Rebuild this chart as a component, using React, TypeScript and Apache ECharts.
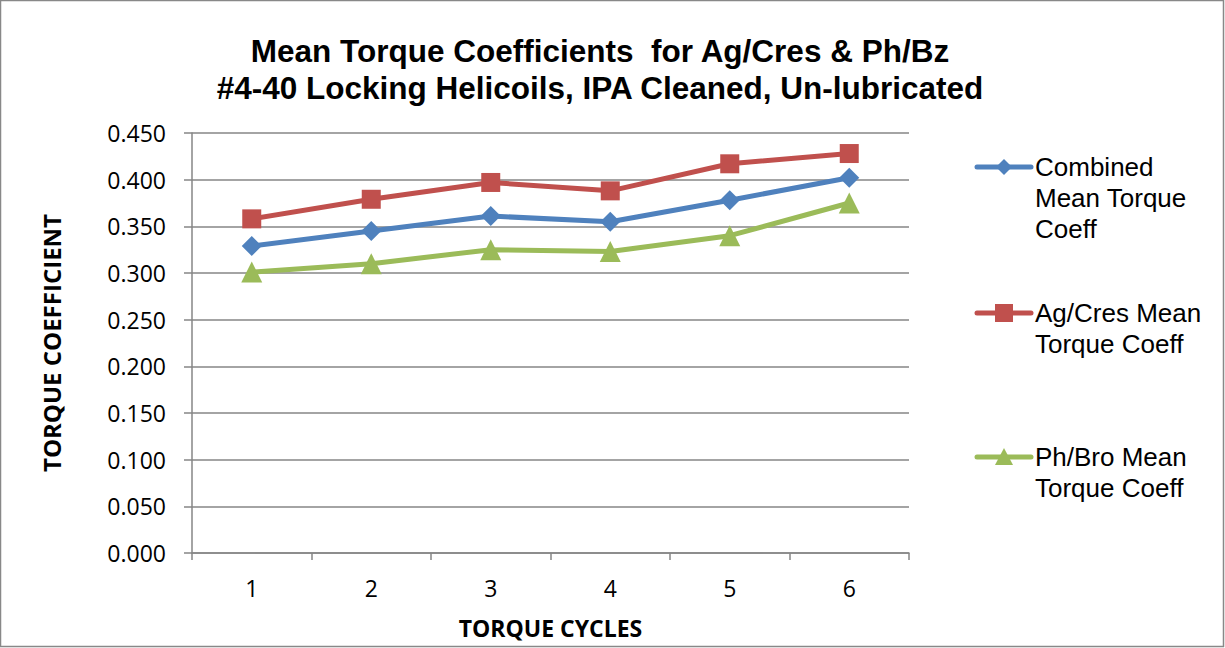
import React, { useEffect, useRef } from "react";
import * as echarts from "echarts";

const titleLines = [
  "Mean Torque Coefficients  for Ag/Cres & Ph/Bz",
  "#4-40 Locking Helicoils, IPA Cleaned, Un-lubricated",
];
const categories = ["1", "2", "3", "4", "5", "6"];
const combined = [0.329, 0.345, 0.361, 0.355, 0.378, 0.402];
const agCres = [0.358, 0.379, 0.397, 0.388, 0.417, 0.428];
const phBro = [0.301, 0.31, 0.325, 0.323, 0.34, 0.375];
const seriesNames = [
  "Combined Mean Torque Coeff",
  "Ag/Cres Mean Torque Coeff",
  "Ph/Bro Mean Torque Coeff",
];
const legendLabels = [
  "Combined\nMean Torque\nCoeff",
  "Ag/Cres Mean\nTorque Coeff",
  "Ph/Bro Mean\nTorque Coeff",
];
const colors = ["#4F81BD", "#C0504D", "#9BBB59"];
const symbols = ["diamond", "rect", "triangle"];
const yMin = 0;
const yMax = 0.45;
const yInterval = 0.05;

export default function App() {
  const ref = useRef<HTMLDivElement>(null);
  useEffect(() => {
    if (!ref.current) return;
    const chart = echarts.init(ref.current, null, { renderer: "svg" });
    const data = [combined, agCres, phBro];
    const legendTop = [167, 313, 457];
    const legendGraphics: any[] = [];
    legendTop.forEach((cy, i) => {
      legendGraphics.push({
        type: "line",
        shape: { x1: 977, y1: cy, x2: 1031, y2: cy },
        style: { stroke: colors[i], lineWidth: 5, lineCap: "round" },
      });
      if (i === 0) {
        legendGraphics.push({
          type: "polygon",
          shape: { points: [[1004, cy - 8], [1012, cy], [1004, cy + 8], [996, cy]] },
          style: { fill: colors[i] },
        });
      } else if (i === 1) {
        legendGraphics.push({
          type: "rect",
          shape: { x: 995, y: cy - 9, width: 18, height: 18 },
          style: { fill: colors[i] },
        });
      } else {
        legendGraphics.push({
          type: "polygon",
          shape: { points: [[1004, cy - 9], [1013, cy + 8], [995, cy + 8]] },
          style: { fill: colors[i] },
        });
      }
      legendGraphics.push({
        type: "text",
        x: 1035,
        y: cy - 15.5,
        style: {
          text: legendLabels[i],
          font: "26px 'Liberation Sans', Arial, sans-serif",
          lineHeight: 31,
          fill: "#000",
          verticalAlign: "top",
          align: "left",
        },
      });
    });
    chart.setOption({
      animation: false,
      backgroundColor: "#fff",
      title: {
        text: titleLines.join("\n"),
        left: 595,
        textAlign: "center",
        top: 27,
        textStyle: {
          fontFamily: "'Liberation Sans', Arial, sans-serif",
          fontWeight: "bold",
          fontSize: 31.5,
          lineHeight: 37,
          color: "#000",
        },
      },
      grid: { left: 192, right: 316, top: 133, bottom: 95 },
      xAxis: {
        type: "category",
        data: categories,
        boundaryGap: true,
        name: "TORQUE CYCLES",
        nameLocation: "middle",
        nameGap: 63.5,
        nameTextStyle: {
          fontFamily: "'Open Sans', sans-serif",
          fontWeight: "bold",
          fontSize: 23,
          color: "#000",
        },
        axisLine: { lineStyle: { color: "#868686", width: 1.5 } },
        axisTick: { show: true, length: 7, lineStyle: { color: "#868686", width: 1.5 } },
        axisLabel: {
          margin: 23,
          fontFamily: "'Open Sans', sans-serif",
          fontSize: 23,
          color: "#000",
        },
        splitLine: { show: false },
      },
      yAxis: {
        type: "value",
        min: yMin,
        max: yMax,
        interval: yInterval,
        name: "TORQUE COEFFICIENT",
        nameLocation: "middle",
        nameGap: 128.5,
        nameTextStyle: {
          fontFamily: "'Open Sans', sans-serif",
          fontWeight: "bold",
          fontSize: 24,
          color: "#000",
        },
        axisLine: { show: true, lineStyle: { color: "#868686", width: 1.5 } },
        axisTick: { show: true, length: 8, lineStyle: { color: "#868686", width: 1.5 } },
        axisLabel: {
          margin: 26,
          fontFamily: "'Open Sans', sans-serif",
          fontSize: 23,
          color: "#000",
          formatter: (v: number) => v.toFixed(3),
        },
        splitLine: { show: true, lineStyle: { color: "#868686", width: 1.5 } },
      },
      series: data.map((d, i) => ({
        name: seriesNames[i],
        type: "line",
        data: d,
        symbol: symbols[i],
        symbolSize: i === 0 ? 20 : i === 1 ? 19 : 21,
        showAllSymbol: true,
        lineStyle: { color: colors[i], width: 5 },
        itemStyle: { color: colors[i] },
        z: 3 - i,
      })),
      graphic: [
        {
          type: "rect",
          shape: { x: 0.5, y: 0.5, width: 1223, height: 646 },
          style: { fill: "none", stroke: "#888", lineWidth: 1.5 },
          silent: true,
        },
        ...legendGraphics,
      ],
    });
    return () => chart.dispose();
  }, []);
  return (
    <div
      ref={ref}
      style={{ position: "fixed", left: 0, top: 0, width: 1225, height: 648 }}
    />
  );
}
